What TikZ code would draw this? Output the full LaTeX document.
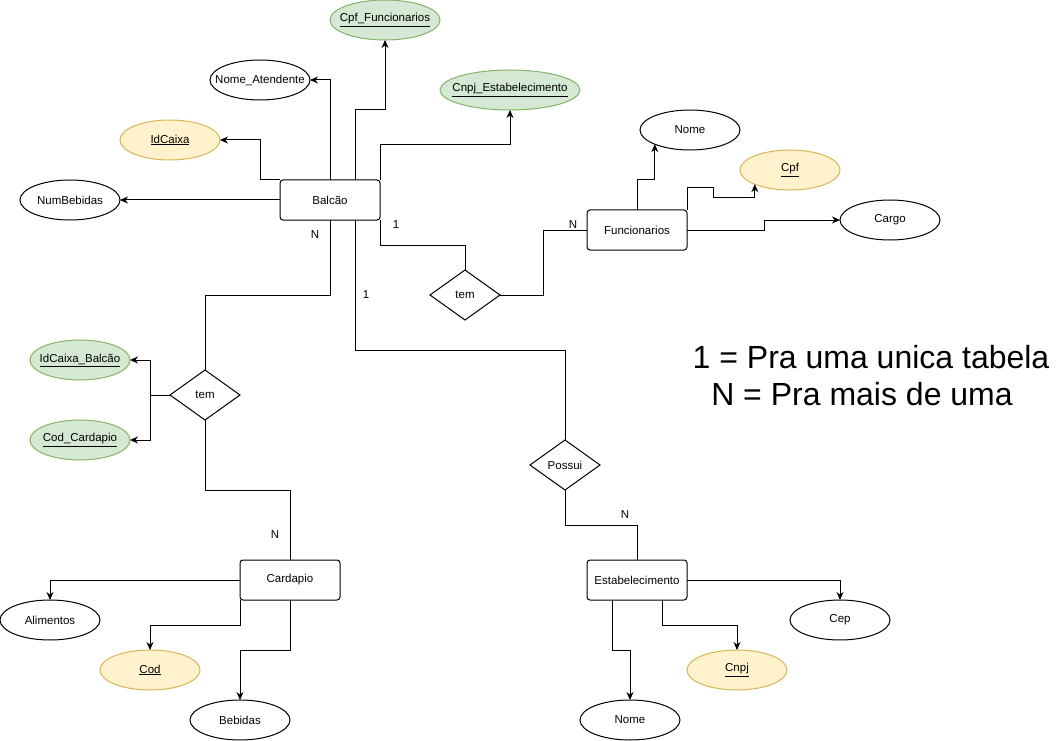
\documentclass[tikz,border=0pt]{standalone}
\usepackage{fontspec}
\setmainfont{Liberation Sans}
\usetikzlibrary{arrows.meta,shapes.geometric,calc}
\definecolor{gfill}{HTML}{D5E8D4}
\definecolor{gdraw}{HTML}{82B366}
\definecolor{yfill}{HTML}{FFF2CC}
\definecolor{ydraw}{HTML}{D6B656}
\newcommand\zb[1]{\makebox[0pt]{#1}}
\begin{document}
\begin{tikzpicture}[x=1pt,y=-1pt, font=\fontsize{11.5}{13}\selectfont,
 ent/.style={draw, rounded corners=3pt, minimum width=100pt, minimum height=40pt, inner sep=0pt, outer sep=0pt, line width=1pt},
 attr/.style={draw, ellipse, minimum width=100pt, minimum height=40pt, inner sep=0pt, outer sep=0pt, line width=1pt},
 keyattr/.style={attr, draw=ydraw, fill=yfill},
 fkattr/.style={attr, draw=gdraw, fill=gfill},
 rel/.style={draw, diamond, minimum width=70pt, minimum height=50pt, inner sep=0pt, outer sep=0pt, line width=1pt},
 link/.style={line width=1pt},
 arr/.style={link, -{Stealth[length=8pt,width=7pt]}},
 cardlbl/.style={inner sep=0pt},
 legend/.style={anchor=base, inner sep=0pt, font=\fontsize{32}{38}\selectfont}
]
\useasboundingbox (0,0) rectangle (1061,741);

% entities
\node[ent] (balcao) at (330,200) {Balcão};
\node[ent] (func) at (637,230) {Funcionarios};
\node[ent] (card) at (290,580) {Cardapio};
\node[ent] (estab) at (637,580) {Estabelecimento};

% relationships
\node[rel] (tem1) at (465,295) {tem};
\node[rel] (tem2) at (205,395) {tem};
\node[rel] (possui) at (565,465) {Possui};

% attributes
\node[fkattr, minimum width=110pt] (cpff) at (385,20) {\zb{\underline{Cpf\_Funcionarios}}};
\node[attr] (nomeat) at (260,80) {\zb{Nome\_Atendente}};
\node[fkattr, minimum width=140pt] (cnpje) at (510,90) {\zb{\underline{Cnpj\_Estabelecimento}}};
\node[keyattr] (idcaixa) at (170,140) {\zb{\underline{IdCaixa}}};
\node[attr] (numbeb) at (70,200) {\zb{NumBebidas}};
\node[attr] (nomef) at (690,130) {\zb{Nome}};
\node[keyattr] (cpf) at (790,170) {\zb{\underline{Cpf}}};
\node[attr] (cargo) at (890,220) {\zb{Cargo}};
\node[fkattr] (idcb) at (80,360) {\zb{\underline{IdCaixa\_Balcão}}};
\node[fkattr] (codc) at (80,440) {\zb{\underline{Cod\_Cardapio}}};
\node[attr] (alim) at (50,620) {\zb{Alimentos}};
\node[keyattr] (cod) at (150,670) {\zb{\underline{Cod}}};
\node[attr] (beb) at (240,720) {\zb{Bebidas}};
\node[attr] (nomee) at (630,720) {\zb{Nome}};
\node[keyattr] (cnpj) at (737,670) {\zb{\underline{Cnpj}}};
\node[attr] (cep) at (840,620) {\zb{Cep}};

% cardinality labels
\node[cardlbl] (n1) at (315,235) {N};
\node[cardlbl] (o1) at (396,225) {1};
\node[cardlbl] (n2) at (573,225) {N};
\node[cardlbl] (o2) at (366,295) {1};
\node[cardlbl] (n3) at (275,535) {N};
\node[cardlbl] (n4) at (625,515) {N};

% legend
\node[legend] (leg1) at (871,368) {1 = Pra uma unica tabela};
\node[legend] (leg2) at (862,405) {N = Pra mais de uma};

% Balcao attributes
\draw[arr] (balcao.west) -- (numbeb.east);
\draw[arr] (balcao.north west) -- ++(-20,0) |- (idcaixa.east);
\draw[arr] (balcao.north) |- (nomeat.east);
\draw[arr] ([xshift=25pt]balcao.north) -- ++(0,-70) -| (cpff.south);
\draw[arr] (balcao.north east) -- ++(0,-35) -| (cnpje.south);

% Balcao relationships
\draw[link] (balcao.south) -- ++(0,75) -| (tem2.north);
\draw[link] ([xshift=25pt]balcao.south) -- ++(0,130) -| (possui.north);
\draw[link] (balcao.south east) -- ++(0,25) -| (tem1.north);
\draw[link] (tem1.east) -- ++(43,0) |- (func.west);

% Funcionarios attributes
\draw[arr] (func.north) -- ++(0,-30) -| (nomef.202);
\draw[arr] (func.north east) -- ++(0,-22) -- ++(26,0) -- ++(0,10) -| (cpf.202);
\draw[arr] (func.east) -- ++(77,0) |- (cargo.west);

% tem (lower)
\draw[arr] (tem2.west) -- ++(-20,0) |- (idcb.east);
\draw[arr] (tem2.west) -- ++(-20,0) |- (codc.east);
\draw[link] (tem2.south) -- ++(0,70) -| (card.north);

% Possui
\draw[link] (possui.south) -- ++(0,35) -| (estab.north);

% Cardapio attributes
\draw[arr] (card.west) -| (alim.north);
\draw[arr] (card.south west) -- ++(0,25) -| (cod.north);
\draw[arr] (card.south) -- ++(0,50) -| (beb.north);

% Estabelecimento attributes
\draw[arr] ([xshift=-25pt]estab.south) -- ++(0,50) -| (nomee.north);
\draw[arr] ([xshift=25pt]estab.south) -- ++(0,25) -| (cnpj.north);
\draw[arr] (estab.east) -| (cep.north);
\end{tikzpicture}
\end{document}
